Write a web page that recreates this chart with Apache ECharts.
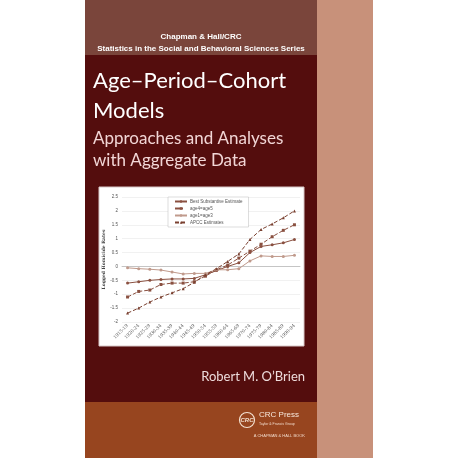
<!DOCTYPE html>
<html>
<head>
<meta charset="utf-8">
<script src="https://cdn.jsdelivr.net/npm/echarts@6/dist/echarts.min.js"></script>
<style>html,body{margin:0;padding:0;background:#fff}#c{width:458px;height:458px}</style>
</head>
<body>
<div id="c"></div>
<script>
// cohort periods
var periods = ['1915-19', '1920-24', '1925-29', '1930-34', '1935-39', '1940-44', '1945-49', '1950-54',
	'1955-59', '1960-64', '1965-69', '1970-74', '1975-79', '1980-84', '1985-89', '1990-94'];
var seriesNames = ['Best Substantive Estimate', 'age4=age5', 'age1=age3', 'APCC Estimates'];
var best = [-0.6, -0.55, -0.5, -0.47, -0.45, -0.45, -0.43, -0.3, -0.15, 0.0, 0.13, 0.5, 0.72, 0.78, 0.85, 0.97];
var age45 = [-1.1, -0.9, -0.85, -0.65, -0.6, -0.6, -0.55, -0.35, -0.12, 0.05, 0.3, 0.55, 0.8, 1.07, 1.3, 1.5];
var age13 = [-0.05, -0.08, -0.1, -0.13, -0.2, -0.27, -0.25, -0.25, -0.12, -0.12, -0.08, 0.2, 0.38, 0.36, 0.36, 0.4];
var apcc = [-1.68, -1.5, -1.28, -1.1, -0.95, -0.8, -0.57, -0.3, -0.08, 0.18, 0.45, 0.97, 1.33, 1.53, 1.75, 2.0];

var myChart = echarts.init(document.getElementById('c'));

function line(name, data, color, type, symbol) {
	return {
		name: name,
		type: 'line',
		data: data,
		symbol: symbol,
		symbolSize: 3,
		lineStyle: { color: color, width: 1, type: type },
		itemStyle: { color: color },
		z: 10
	};
}

var option = {
	animation: false,
	graphic: [
		{ type: 'rect', shape: { x: 85, y: 0, width: 232, height: 55 }, style: { fill: '#7a453b' }, z: -10 },
		{ type: 'rect', shape: { x: 85, y: 55, width: 232, height: 347 }, style: { fill: '#540d0d' }, z: -10 },
		{ type: 'rect', shape: { x: 85, y: 402, width: 232, height: 56 }, style: { fill: '#97451f' }, z: -10 },
		{ type: 'rect', shape: { x: 317, y: 0, width: 56, height: 458 }, style: { fill: '#c8917a' }, z: -10 },
		{ type: 'rect', shape: { x: 99, y: 187, width: 205, height: 159 }, style: { fill: '#fff', stroke: '#d8c8c8', lineWidth: 1 }, z: -5 },
		{ type: 'text', x: 201, y: 33, style: { text: 'Chapman & Hall/CRC', fill: '#fff', font: 'bold 8px Liberation Sans', align: 'center' } },
		{ type: 'text', x: 201, y: 45, style: { text: 'Statistics in the Social and Behavioral Sciences Series', fill: '#fff', font: 'bold 8px Liberation Sans', align: 'center' } },
		{ type: 'text', x: 93, y: 70, style: { text: 'Age\u2013Period\u2013Cohort', fill: '#fff', font: '22px Lato', verticalAlign: 'top' } },
		{ type: 'text', x: 93, y: 100, style: { text: 'Models', fill: '#fff', font: '22px Lato', verticalAlign: 'top' } },
		{ type: 'text', x: 93, y: 130, style: { text: 'Approaches and Analyses', fill: '#f2d6d6', font: '17px Lato', verticalAlign: 'top' } },
		{ type: 'text', x: 93, y: 152, style: { text: 'with Aggregate Data', fill: '#f2d6d6', font: '17px Lato', verticalAlign: 'top' } },
		{ type: 'text', x: 305, y: 370, style: { text: 'Robert M. O\u2019Brien', fill: '#eedcdc', font: '13px Lato', align: 'right', verticalAlign: 'top' } },
		{ type: 'circle', shape: { cx: 247, cy: 420, r: 7.5 }, style: { fill: 'none', stroke: '#f3e0d0', lineWidth: 1.2 } },
		{ type: 'text', x: 247, y: 420, style: { text: 'CRC', fill: '#f3e0d0', font: 'italic bold 6px Liberation Sans', align: 'center', verticalAlign: 'middle' } },
		{ type: 'text', x: 259, y: 411, style: { text: 'CRC Press', fill: '#f7e8dc', font: '8px Liberation Sans', verticalAlign: 'top' } },
		{ type: 'text', x: 259, y: 422, style: { text: 'Taylor & Francis Group', fill: '#f0d8c8', font: '3.5px Liberation Sans', verticalAlign: 'top' } },
		{ type: 'text', x: 305, y: 434, style: { text: 'A CHAPMAN & HALL BOOK', fill: '#f0d8c8', font: '4px Liberation Sans', align: 'right', verticalAlign: 'top' } }
	],
	legend: {
		data: seriesNames,
		orient: 'vertical',
		left: 168,
		top: 197,
		width: 80,
		itemWidth: 12,
		itemHeight: 3,
		itemGap: 2,
		padding: [2, 6],
		backgroundColor: '#fff',
		borderColor: '#bbb',
		borderWidth: 0.5,
		textStyle: { fontSize: 4.5, color: '#555', padding: [0, 0, 0, -2] }
	},
	grid: { left: 122, right: 158, top: 197, bottom: 136 },
	xAxis: {
		type: 'category',
		data: periods,
		boundaryGap: true,
		axisLine: { lineStyle: { color: '#999', width: 0.5 } },
		axisTick: { show: false },
		axisLabel: { rotate: 45, fontSize: 4.5, color: '#555', interval: 0, margin: 3, fontFamily: 'DejaVu Serif' }
	},
	yAxis: {
		type: 'value',
		min: -2,
		max: 2.5,
		interval: 0.5,
		name: 'Logged Homicide Rates',
		nameLocation: 'middle',
		nameGap: 14,
		nameTextStyle: { fontSize: 4.5, fontWeight: 'bold', color: '#444', fontFamily: 'DejaVu Serif' },
		axisLine: { show: false },
		axisTick: { show: false },
		splitLine: { lineStyle: { color: '#e2e2e2', width: 0.5 } },
		axisLabel: { fontSize: 4.5, color: '#555', margin: 4 }
	},
	series: [
		line(seriesNames[0], best, '#8a5040', 'solid', 'circle'),
		line(seriesNames[1], age45, '#8a5040', 'dashed', 'rect'),
		line(seriesNames[2], age13, '#c09a8c', 'solid', 'circle'),
		line(seriesNames[3], apcc, '#7a4030', [4, 2], 'triangle')
	]
};
myChart.setOption(option);
</script>
</body>
</html>
